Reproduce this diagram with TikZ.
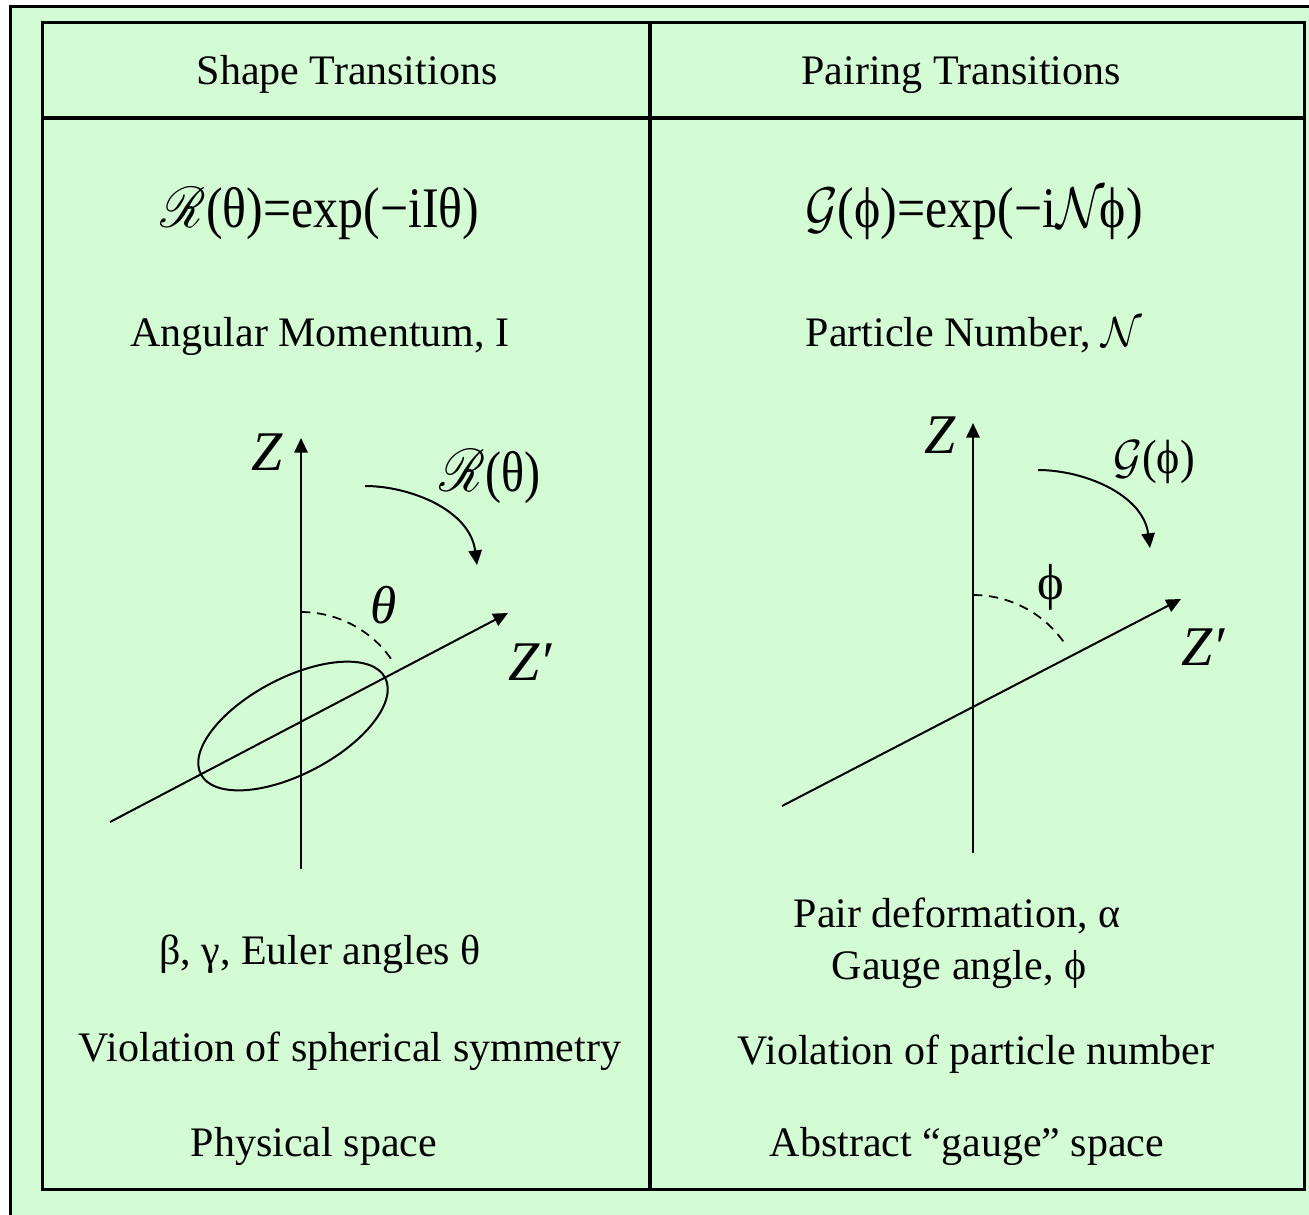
\documentclass[tikz,border=0pt]{standalone}
\usepackage{fontspec}
\setmainfont{Liberation Serif}
\usepackage{mathrsfs}
\usepackage{graphicx}
\usetikzlibrary{arrows.meta}
\definecolor{bg}{RGB}{212,252,212}
\newcommand\myscr[1]{\scalebox{#1}{\fontsize{10}{12}\selectfont$\mathscr{R}$}}
\newcommand\mycal[2]{\scalebox{#1}{\fontsize{10}{12}\selectfont$\mathcal{#2}$}}
\begin{document}
\begin{tikzpicture}[x=0.75pt,y=0.75pt,
  txt/.style={font=\fontsize{31.5}{36}\selectfont, anchor=base, inner sep=0pt},
  fml/.style={font=\fontsize{43}{48}\selectfont, anchor=base, inner sep=0pt},
  lbl/.style={font=\fontsize{42}{48}\selectfont\itshape, inner sep=0pt},
  frm/.style={line width=2.3pt},
  ax/.style={line width=1.5pt, -{Triangle[length=11pt,width=10pt]}},
  rot/.style={line width=1.5pt, -{Triangle[length=11pt,width=10pt]}},
  ang/.style={line width=1.3pt, dashed, dash pattern=on 7pt off 5pt}]
\useasboundingbox (0,0) rectangle (1309,-1214);
\clip (0,0) rectangle (1309,-1214);
\fill[white] (0,0) rectangle (1309,-1214);
% frames
\draw[frm, fill=bg] (10.8,-6.5) rectangle (1340,-1250);
\draw[frm] (42.2,-22.5) rectangle (1304.8,-1189.7);
\draw[frm] (42.2,-118) -- (1304.8,-118);
\draw[frm] (650,-22.5) -- (650,-1189.7);
% headers
\node[txt] (h1) at (347,-84) {Shape Transitions};
\node[txt] (h2) at (961,-84) {Pairing Transitions};
% formulas
\node[fml] (f1) at (320,-227) {\scalebox{0.87}[1]{\myscr{4.3}(θ)=exp(−iIθ)}};
\node[fml] (f2) at (974,-227) {\scalebox{0.87}[1]{\mycal{4.3}{G}(ϕ)=exp(−i\mycal{4.3}{N}\kern-4pt ϕ)}};
\node[txt] (g1) at (320,-346) {Angular Momentum, I};
\node[txt] (g2) at (974,-346) {Particle Number, \mycal{3.15}{N}};
% left diagram
\coordinate (zb1) at (301,-869);
\coordinate (zt1) at (301,-438);
\coordinate (pb1) at (110,-822);
\coordinate (pt1) at (508,-613);
\coordinate (o1) at (301,-722);
\draw[ax] (zb1) -- (zt1);
\draw[ax] (pb1) -- (pt1);
\draw[line width=1.5pt, rotate around={27.7:(293,-726)}] (293,-726) ellipse [x radius=104, y radius=48];
\draw[ang] (301,-612) arc[start angle=90, end angle=35, radius=110];
\coordinate (ra1) at (365,-486);
\coordinate (rb1) at (477,-565);
\draw[rot] (ra1) .. controls (410,-486) and (470,-510) .. (rb1);
\node[lbl] (zl1) at (267,-452) {Z};
\node[lbl] (zp1) at (530,-662) {Z′};
\node[lbl, font=\fontsize{40}{46}\selectfont\itshape] (th1) at (384,-605) {θ};
\node[fml, anchor=center] (rl1) at (490,-477) {\scalebox{0.84}[1]{\myscr{4.5}(θ)}};
% right diagram
\coordinate (zb2) at (973,-853);
\coordinate (zt2) at (973,-423);
\coordinate (pb2) at (782,-806);
\coordinate (pt2) at (1181,-599);
\draw[ax] (zb2) -- (zt2);
\draw[ax] (pb2) -- (pt2);
\draw[ang] (973,-595) arc[start angle=90, end angle=34, radius=111];
\coordinate (ra2) at (1038,-470);
\coordinate (rb2) at (1150,-548);
\draw[rot] (ra2) .. controls (1083,-470) and (1143,-494) .. (rb2);
\node[lbl] (zl2) at (940,-435) {Z};
\node[lbl] (zp2) at (1203,-647) {Z′};
\node[fml, anchor=center, font=\fontsize{38}{44}\selectfont] (ph2) at (1051,-587) {ϕ};
\node[fml, anchor=center, font=\fontsize{36}{40}\selectfont] (gl2) at (1154,-462) {\scalebox{0.92}[1]{\mycal{3.6}{G}(ϕ)}};
% lower texts
\node[txt] (b1) at (320,-964) {β, γ, Euler angles θ};
\node[txt] (b2) at (957,-927) {Pair deformation, α};
\node[txt] (b3) at (959,-979) {Gauge angle, ϕ};
\node[txt] (v1) at (350,-1061) {Violation of spherical symmetry};
\node[txt] (v2) at (976,-1064) {Violation of particle number};
\node[txt] (s1) at (314,-1156) {Physical space};
\node[txt] (s2) at (967,-1156) {Abstract “gauge” space};
\end{tikzpicture}
\end{document}
